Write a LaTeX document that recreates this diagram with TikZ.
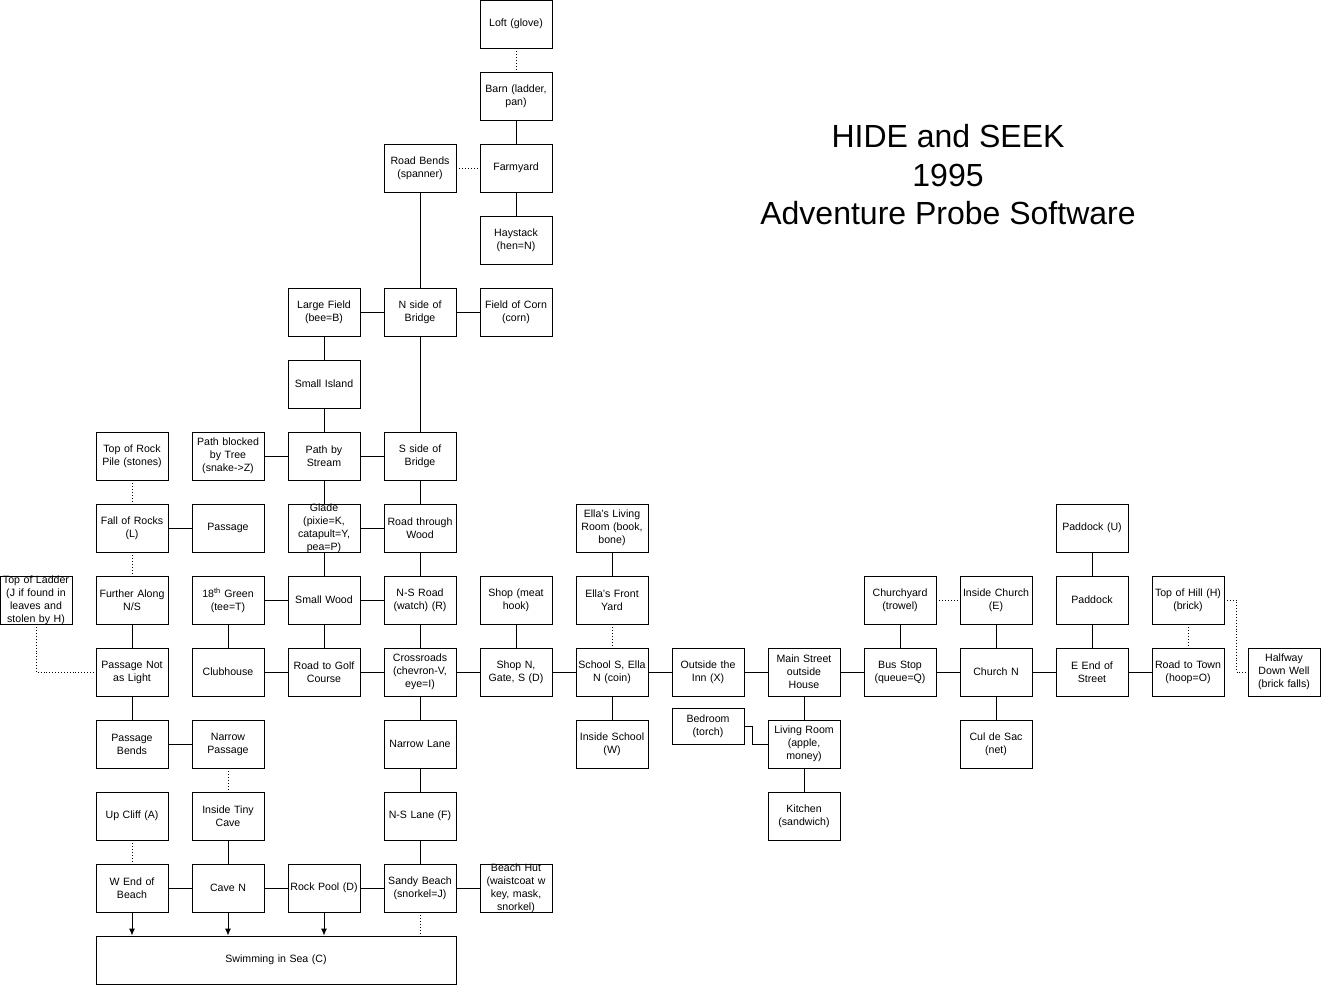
\documentclass[tikz,border=0pt]{standalone}
\usepackage{fontspec}
\setmainfont{Liberation Sans}
\usetikzlibrary{arrows.meta,positioning}

\begin{document}
\begin{tikzpicture}
[x=1pt, y=1pt, on grid, node distance=72pt and 96pt,
% STYLES
% every location of the map is a plain box
room/.style={rectangle, draw, line width=0.9pt, minimum width=72pt, minimum height=48pt, inner xsep=0pt, inner ysep=1pt, text width=72pt, align=center, font=\fontsize{10.6}{13}\selectfont},
% text that runs over the edge of its box
overflow/.style={inner sep=0pt, text width=72pt, align=center, font=\fontsize{10.6}{13}\selectfont},
title/.style={align=center, font=\fontsize{32}{38.5}\selectfont},
% the connections
link/.style={line width=0.9pt},
hidden/.style={line width=0.9pt, dotted},
fall/.style={line width=0.9pt, -{Latex[length=7pt,width=6pt]}}]

\useasboundingbox (0,0) rectangle (1321,985);

% Title
\node [title] (title) at (948,810) {HIDE and SEEK\\1995\\Adventure Probe Software};

% The main street
\node [room] (crossroads) at (420,313) {Crossroads\\(chevron-V,\\eye=I)};
\node [room, left=of crossroads] (golf) {Road to Golf\\Course};
\node [room, left=of golf] (clubhouse) {Clubhouse};
\node [room, left=of clubhouse] (passnot) {Passage Not\\as Light};
\node [room, right=of crossroads] (shopn) {Shop N,\\Gate, S (D)};
\node [room, right=of shopn] (school) {School S, Ella\\N (coin)};
\node [room, right=of school] (inn) {Outside the\\Inn (X)};
\node [room, right=of inn] (mainst) {Main Street\\outside\\House};
\node [room, right=of mainst] (busstop) {Bus Stop\\(queue=Q)};
\node [room, right=of busstop] (churchn) {Church N};
\node [room, right=of churchn] (eend) {E End of\\Street};
\node [room, right=of eend] (roadtown) {Road to Town\\(hoop=O)};
\node [room, right=of roadtown] (halfway) {Halfway\\Down Well\\(brick falls)};

%%%%%%%%%%%%%%%
% North of the crossroads
\node [room, above=of crossroads] (nsroad) {N-S Road\\(watch) (R)};
\node [room, above=of nsroad] (roadwood) {Road through\\Wood};
\node [room, above=of roadwood] (sside) {S side of\\Bridge};
\node [room, above=144pt of sside] (nside) {N side of\\Bridge};
\node [room, above=144pt of nside] (roadbends) {Road Bends\\(spanner)};
\node [room, right=of roadbends] (farmyard) {Farmyard};
\node [room, above=of farmyard] (barn) {Barn (ladder,\\pan)};
\node [room, above=of barn] (loft) {Loft (glove)};
\node [room, below=of farmyard] (haystack) {Haystack\\(hen=N)};
\node [room, right=of nside] (corn) {Field of Corn\\(corn)};
\node [room, left=of nside] (largefield) {Large Field\\(bee=B)};
\node [room, below=of largefield] (island) {Small Island};
\node [room, below=of island] (pathstream) {Path by\\Stream};
\node [room, left=of pathstream] (pathtree) {Path blocked\\by Tree\\(snake->Z)};
\node [room, below=of pathstream] (glade) {};
\node [overflow] (gladetext) at (glade) {Glade\\(pixie=K,\\catapult=Y,\\pea=P)};
\node [room, below=of glade] (smallwood) {Small Wood};
\node [room, left=of glade] (passage) {Passage};
\node [room, left=of passage] (fallrocks) {Fall of Rocks\\(L)};
\node [room, above=of fallrocks] (toprock) {Top of Rock\\Pile (stones)};
\node [room, below=of fallrocks] (further) {Further Along\\N/S};
\node [room, left=of further] (ladder) {};
\node [overflow] (laddertext) at (ladder) {Top of Ladder\\(J if found in\\leaves and\\stolen by H)};
\node [room, left=of smallwood] (green) {18\textsuperscript{th} Green\\(tee=T)};

%%%%%%%%%%%%%%%
% South of the crossroads
\node [room, below=of crossroads] (narrowlane) {Narrow Lane};
\node [room, below=of narrowlane] (nslane) {N-S Lane (F)};
\node [room, below=of nslane] (sandy) {Sandy Beach\\(snorkel=J)};
\node [room, right=of sandy] (hut) {};
\node [overflow] (huttext) at (hut) {Beach Hut\\(waistcoat w\\key, mask,\\snorkel)};
\node [room, left=of sandy] (rockpool) {Rock Pool (D)};
\node [room, left=of rockpool] (caven) {Cave N};
\node [room, left=of caven] (wend) {W End of\\Beach};
\node [room, above=of wend] (upcliff) {Up Cliff (A)};
\node [room, above=of caven] (tinycave) {Inside Tiny\\Cave};
\node [room, above=of tinycave] (narrowpass) {Narrow\\Passage};
\node [room, left=of narrowpass] (passbends) {Passage\\Bends};
\node [room, minimum width=360pt, text width=356pt] (sea) at (276,25) {Swimming in Sea (C)};

%%%%%%%%%%%%%%%
% The village
\node [room, above=of shopn] (shopmeat) {Shop (meat\\hook)};
\node [room, above=of school] (frontyard) {Ella's Front\\Yard};
\node [room, above=of frontyard] (ellaroom) {Ella's Living\\Room (book,\\bone)};
\node [room, below=of school] (inschool) {Inside School\\(W)};
\node [room, below=of mainst] (living) {Living Room\\(apple,\\money)};
\node [room, below=of living] (kitchen) {Kitchen\\(sandwich)};
\node [room, minimum height=36pt] (bedroom) at (708,259) {Bedroom\\(torch)};
\node [room, above=of busstop] (churchyard) {Churchyard\\(trowel)};
\node [room, above=of churchn] (inchurch) {Inside Church\\(E)};
\node [room, below=of churchn] (culdesac) {Cul de Sac\\(net)};
\node [room, above=of eend] (paddock) {Paddock};
\node [room, above=of paddock] (paddocku) {Paddock (U)};
\node [room, above=of roadtown] (tophill) {Top of Hill (H)\\(brick)};

%%%%%%%%%%%%%%%%
% Draw the links between locations
\path[link]
(barn) edge (farmyard)
(farmyard) edge (haystack)
(roadbends) edge (nside)
(largefield) edge (nside)
(nside) edge (corn)
(largefield) edge (island)
(island) edge (pathstream)
(nside) edge (sside)
(pathtree) edge (pathstream)
(pathstream) edge (sside)
(pathstream) edge (glade)
(sside) edge (roadwood)
(fallrocks) edge (passage)
(glade) edge (roadwood)
(glade) edge (smallwood)
(roadwood) edge (nsroad)
(further) edge (passnot)
(green) edge (smallwood)
(green) edge (clubhouse)
(clubhouse) edge (golf)
(smallwood) edge (golf)
(smallwood) edge (nsroad)
(golf) edge (crossroads)
(nsroad) edge (crossroads)
(crossroads) edge (shopn)
(shopmeat) edge (shopn)
(shopn) edge (school)
(ellaroom) edge (frontyard)
(school) edge (inschool)
(school) edge (inn)
(inn) edge (mainst)
(mainst) edge (living)
(living) edge (kitchen)
(mainst) edge (busstop)
(churchyard) edge (busstop)
(busstop) edge (churchn)
(inchurch) edge (churchn)
(churchn) edge (culdesac)
(churchn) edge (eend)
(paddocku) edge (paddock)
(paddock) edge (eend)
(eend) edge (roadtown)
(crossroads) edge (narrowlane)
(narrowlane) edge (nslane)
(nslane) edge (sandy)
(sandy) edge (hut)
(passnot) edge (passbends)
(passbends) edge (narrowpass)
(tinycave) edge (caven)
(wend) edge (caven)
(caven) edge (rockpool)
(rockpool) edge (sandy);
\draw[link] (bedroom.east) -- ++(8,0) |- (living.west);

% hidden ways
\path[hidden]
(loft) edge (barn)
(roadbends) edge (farmyard)
(toprock) edge (fallrocks)
(fallrocks) edge (further)
(frontyard) edge (school)
(churchyard) edge (inchurch)
(tophill) edge (roadtown)
(narrowpass) edge (tinycave)
(upcliff) edge (wend);
\draw[hidden] (ladder.south) |- (passnot.west);
\draw[hidden] (tophill.east) -- ++(12,0) |- (halfway.west);
\draw[hidden] (sandy.south) -- (sandy.south |- sea.north);

% into the sea
\path[fall]
(wend.south) edge (wend.south |- sea.north)
(caven.south) edge (caven.south |- sea.north)
(rockpool.south) edge (rockpool.south |- sea.north);

\end{tikzpicture}
\end{document}
